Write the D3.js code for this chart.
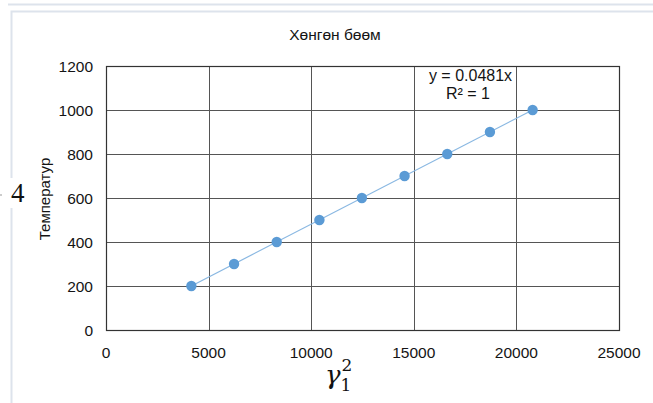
<!DOCTYPE html>
<html>
<head>
<meta charset="utf-8">
<script src="https://cdn.jsdelivr.net/npm/d3@7"></script>
<style>
  body { margin: 0; background: #fff; }
  svg { display: block; }
</style>
</head>
<body>
<div id="chart"></div>
<script>
// Data
const xVals = [4160, 6240, 8320, 10400, 12470, 14550, 16630, 18710, 20790]
const yVals = [200, 300, 400, 500, 600, 700, 800, 900, 1000]
const xTicks = [0, 5000, 10000, 15000, 20000, 25000]
const yTicks = [0, 200, 400, 600, 800, 1000, 1200]
const slope = 0.0481
const title = "Хөнгөн бөөм"
const yTitle = "Температур"

const w = 653, h = 403
const font = "Liberation Sans, Arial, sans-serif"
const txtCol = "#141414"
const svg = d3.select("#chart").append("svg").attr("width", w).attr("height", h)

// page frames around the chart
svg.append("line").attr("x1", 8).attr("x2", w).attr("y1", 4.5).attr("y2", 4.5)
    .style("stroke", "#dde3ec").style("stroke-width", 2)
svg.append("path").attr("d", "M" + w + ",11.5 H11.5 V" + h)
    .style("fill", "none").style("stroke", "#dde3ec").style("stroke-width", 2)

// Plot area
const pLeft = 106, pRight = 619, pTop = 66, pBottom = 330
const x = d3.scaleLinear().domain([0, 25000]).range([pLeft, pRight])
const y = d3.scaleLinear().domain([0, 1200]).range([pBottom, pTop])

const grid = svg.append("g")
grid.selectAll(".vg").data(xTicks).enter().append("line")
    .attr("x1", d => Math.round(x(d)) + 0.5).attr("x2", d => Math.round(x(d)) + 0.5)
    .attr("y1", pTop).attr("y2", pBottom)
    .style("stroke", "#555").style("stroke-width", 1)
grid.selectAll(".hg").data(yTicks).enter().append("line")
    .attr("x1", pLeft).attr("x2", pRight)
    .attr("y1", d => Math.round(y(d)) + 0.5).attr("y2", d => Math.round(y(d)) + 0.5)
    .style("stroke", "#555").style("stroke-width", 1)

svg.append("rect").attr("x", pLeft + 0.5).attr("y", pTop + 0.5)
    .attr("width", pRight - pLeft).attr("height", pBottom - pTop)
    .style("fill", "none").style("stroke", "#333").style("stroke-width", 1.2)

// Tick labels
svg.selectAll(".xt").data(xTicks).enter().append("text")
    .attr("x", d => x(d)).attr("y", pBottom + 28)
    .attr("text-anchor", "middle")
    .style("font-family", font).style("font-size", "15.5px")
    .style("fill", txtCol).text(d => d)
svg.selectAll(".yt").data(yTicks).enter().append("text")
    .attr("x", pLeft - 13).attr("y", d => y(d) + 5.5)
    .attr("text-anchor", "end")
    .style("font-family", font).style("font-size", "15.5px")
    .style("fill", txtCol).text(d => d)

// Trendline across the data range
const xMin = d3.min(xVals), xMax = d3.max(xVals)
svg.append("line")
    .attr("x1", x(xMin)).attr("y1", y(slope * xMin))
    .attr("x2", x(xMax)).attr("y2", y(slope * xMax))
    .style("stroke", "#8ab8e2").style("stroke-width", 1.2)

// Points
svg.selectAll("circle").data(xVals).enter().append("circle")
    .attr("cx", d => x(d)).attr("cy", (d, i) => y(yVals[i]))
    .attr("r", 5.2).style("fill", "#5b9bd5")

// Titles
svg.append("text").attr("x", 335).attr("y", 40).attr("text-anchor", "middle")
    .style("font-family", font).style("font-size", "15.5px")
    .style("fill", txtCol).text(title)
svg.append("text").attr("transform", "translate(50,199) rotate(-90)")
    .attr("text-anchor", "middle")
    .style("font-family", font).style("font-size", "15px")
    .style("fill", txtCol).text(yTitle)

// Trendline equation
const eq = svg.append("g").style("font-family", font)
    .style("font-size", "16px").style("fill", txtCol)
eq.append("text").attr("x", 470.5).attr("y", 81).attr("text-anchor", "middle").text("y = " + slope + "x")
eq.append("text").attr("x", 468).attr("y", 99).attr("text-anchor", "middle").text("R² = 1")

// stray equation fragments around the chart
svg.append("rect").attr("x", 9).attr("y", 178).attr("width", 20).attr("height", 30).style("fill", "#fff")
svg.append("rect").attr("x", 0).attr("y", 194).attr("width", 2).attr("height", 2).style("fill", "#ccc")
svg.append("text").attr("x", 11).attr("y", 202)
    .style("font-family", "Liberation Serif, DejaVu Serif, serif").style("font-size", "27px")
    .style("fill", "#111").text("4")
const gam = svg.append("text").attr("x", 325).attr("y", 384)
    .style("font-family", "DejaVu Serif, Liberation Serif, serif").style("fill", "#111")
gam.append("tspan").style("font-size", "26px").style("font-style", "italic").text("γ")
gam.append("tspan").attr("dx", 0).attr("dy", 7).style("font-size", "17px").text("1")
gam.append("tspan").attr("dx", -10).attr("dy", -20).style("font-size", "17px").text("2")
</script>
</body>
</html>
